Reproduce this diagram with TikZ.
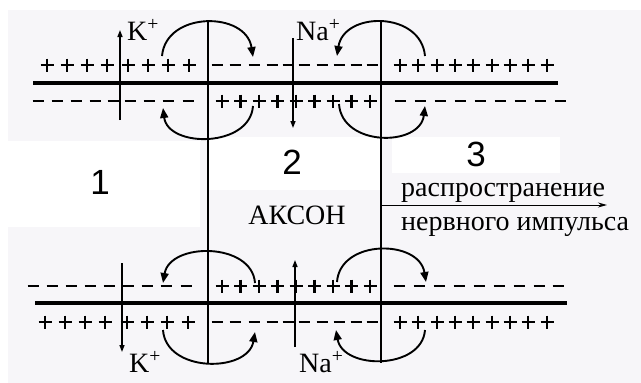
\documentclass[tikz,border=0pt]{standalone}
\usepackage{fontspec}
\setmainfont{Liberation Serif}
\newfontfamily\digfont{Liberation Sans}
\usetikzlibrary{arrows.meta}
\definecolor{bgray}{RGB}{247,246,249}
\newcommand\plusesrow[2]{\foreach \x in {#2}{\draw[chg] (\x-6.5,#1) -- (\x+6.5,#1) (\x,#1-6.5) -- (\x,#1+6.5);}}
\newcommand\dashesrow[2]{\foreach \x in {#2}{\draw[chg] (\x-5.5,#1) -- (\x+5.5,#1);}}
\begin{document}
\begin{tikzpicture}[x=1pt,y=-1pt,
  chg/.style={line width=2.3pt},
  memb/.style={line width=3.4pt},
  divl/.style={line width=1.2pt},
  ionarr/.style={line width=1.4pt,-{Triangle[length=7pt,width=5pt]}},
  flowarr/.style={line width=1.9pt,-{Triangle[length=10pt,width=8pt]}},
  numlbl/.style={font=\digfont\fontsize{35}{35}\selectfont, inner sep=0pt},
  txt/.style={font=\fontsize{28}{28}\selectfont, inner sep=0pt, anchor=base west},
  ion/.style={font=\fontsize{28}{28}\selectfont, inner sep=0pt, anchor=base west}]
\useasboundingbox (0,0) rectangle (641,383);
% background
\fill[white] (0,0) rectangle (641,383);
\fill[bgray] (8,10) rectangle (641,383);
\fill[white] (0,141) rectangle (200,227);
\fill[white] (208,137) rectangle (380,190);
\fill[white] (392,137) rectangle (560,173);

% division lines
\draw[divl] (208,20) -- (208,363);
\draw[divl] (381,20) -- (381,363);

% ---- top membrane ----
\draw[memb] (33,83) -- (558,83);
\plusesrow{65}{47,67,87,107,128,148,168,189}
\dashesrow{65}{217,235,254,272,288,304,322,339,356,372}
\plusesrow{65}{400,418,437,455,473,492,510,528,547}
\dashesrow{101}{38,57,76,95,113,130,149,168,188}
\plusesrow{101}{222,240.5,259,277.5,296,314.5,333,351.5,370}
\dashesrow{101}{400,420,440,460,480,500,520,540,560}

% ---- bottom membrane ----
\draw[memb] (35,303) -- (567,303);
\dashesrow{286}{33,52,71,90,109,128,147,166,186}
\plusesrow{286}{222,240.5,259,277.5,296,314.5,333,351.5,370}
\dashesrow{286}{399,419,439,459,479,499,519,539,558}
\plusesrow{322}{45,65,85,105,127,147,167,188}
\dashesrow{322}{217,235,254,272,288,304,322,339,356,372}
\plusesrow{322}{400,418,437,455,473,492,510,528,547}

% ion arrows
\coordinate (kt0) at (120,120); \coordinate (kt1) at (120,30);
\coordinate (nt0) at (293,38);  \coordinate (nt1) at (293,128);
\coordinate (kb0) at (122,263); \coordinate (kb1) at (122,352);
\coordinate (nb0) at (295,347); \coordinate (nb1) at (295,260);
\draw[ionarr] (kt0) -- (kt1);
\draw[ionarr] (nt0) -- (nt1);
\draw[ionarr] (kb0) -- (kb1);
\draw[ionarr] (nb0) -- (nb1);

% current loops
\draw[flowarr] (162,56) .. controls (166,11) and (246,11) .. (253,57);
\draw[flowarr] (253,106) .. controls (250,148) and (168,148) .. (163,108);
\draw[flowarr] (425,56) .. controls (421,11) and (344,11) .. (337,56);
\draw[flowarr] (339,104) .. controls (342,147) and (420,147) .. (425,106);
\draw[flowarr] (255,283) .. controls (252,242) and (170,242) .. (163,283);
\draw[flowarr] (163,330) .. controls (166,373) and (248,373) .. (255,332);
\draw[flowarr] (337,282) .. controls (340,239) and (419,239) .. (426,282);
\draw[flowarr] (425,330) .. controls (422,370) and (343,370) .. (336,330);

% labels
\node[ion] (kt) at (127,40) {K\textsuperscript{+}};
\node[ion] (nt) at (296,40) {Na\textsuperscript{+}};
\node[ion] (kb) at (129,372) {K\textsuperscript{+}};
\node[ion] (nb) at (299,372) {Na\textsuperscript{+}};
\node[numlbl] (n1) at (100,182) {1};
\node[numlbl] (n2) at (292,162) {2};
\node[numlbl] (n3) at (476,154) {3};
\node[txt, anchor=base] (ax) at (297,224) {АКСОН};
\node[txt] (p1) at (401,196) {распространение};
\node[txt] (p2) at (401,230) {нервного импульса};
\coordinate (pa0) at (381,205);
\coordinate (pa1) at (607,205);
\draw[line width=1pt,-{Stealth[length=9pt,width=5pt]}] (pa0) -- (pa1);
\end{tikzpicture}
\end{document}
